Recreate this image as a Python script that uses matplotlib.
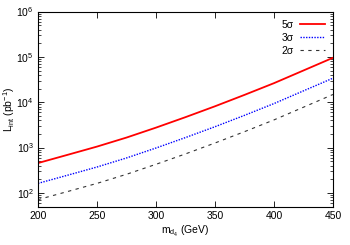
import matplotlib
matplotlib.use('Agg')
import matplotlib.pyplot as plt
import numpy as np

# mass points (GeV) and required luminosity (pb^-1)
mass = [200, 225, 250, 275, 300, 325, 350, 375, 400, 425, 450]
lum_5sigma = [455, 690, 1050, 1660, 2750, 4680, 8130, 14500, 26300, 50100, 95500]
lum_3sigma = [162, 245, 372, 589, 977, 1660, 2880, 5130, 9330, 17800, 33900]
lum_2sigma = [71, 107, 162, 257, 427, 724, 1260, 2240, 4070, 7760, 14800]

plt.rcParams['font.family'] = ['Liberation Sans', 'DejaVu Sans']
plt.rcParams['mathtext.fontset'] = 'custom'
plt.rcParams['mathtext.rm'] = 'Liberation Sans'
plt.rcParams['mathtext.it'] = 'Liberation Sans'

fig = plt.figure(figsize=(3.5, 2.45), dpi=100)
ax = fig.add_axes([0.1086, 0.157, 0.8428, 0.796])

ax.plot(mass, lum_5sigma, color='#ff0000', lw=1.3, ls='-', label='5σ')
ax.plot(mass, lum_3sigma, color='#0000ff', lw=1.0, ls=(0, (1, 1)), label='3σ')
ax.plot(mass, lum_2sigma, color='#333333', lw=0.8, ls=(0, (3, 4)), label='2σ')

ax.set_yscale('log')
ax.set_xlim(200, 450)
ax.set_ylim(50, 1e6)
ax.set_xticks(np.arange(200, 451, 50))

ax.tick_params(which='both', direction='in', top=True, right=True, labelsize=7.5, pad=3)
ax.tick_params(which='major', length=4, width=0.6)
ax.tick_params(which='minor', length=2, width=0.5)
for s in ax.spines.values():
    s.set_linewidth(0.8)

ax.set_xlabel(r'm$_{\mathregular{d_4}}$ (GeV)', fontsize=7.5, labelpad=2)
ax.set_ylabel(r'L$_{\mathregular{int}}$ (pb$^{\mathregular{-1}}$)', fontsize=7.5)
ax.yaxis.set_label_coords(-0.07, 0.5)

ax.legend(loc='upper right', frameon=False, fontsize=7.5, markerfirst=False,
          handlelength=2.4, labelspacing=0.3, borderaxespad=0.5, handletextpad=0.6,
          borderpad=0.3)

fig.savefig('out.png', dpi=100)
